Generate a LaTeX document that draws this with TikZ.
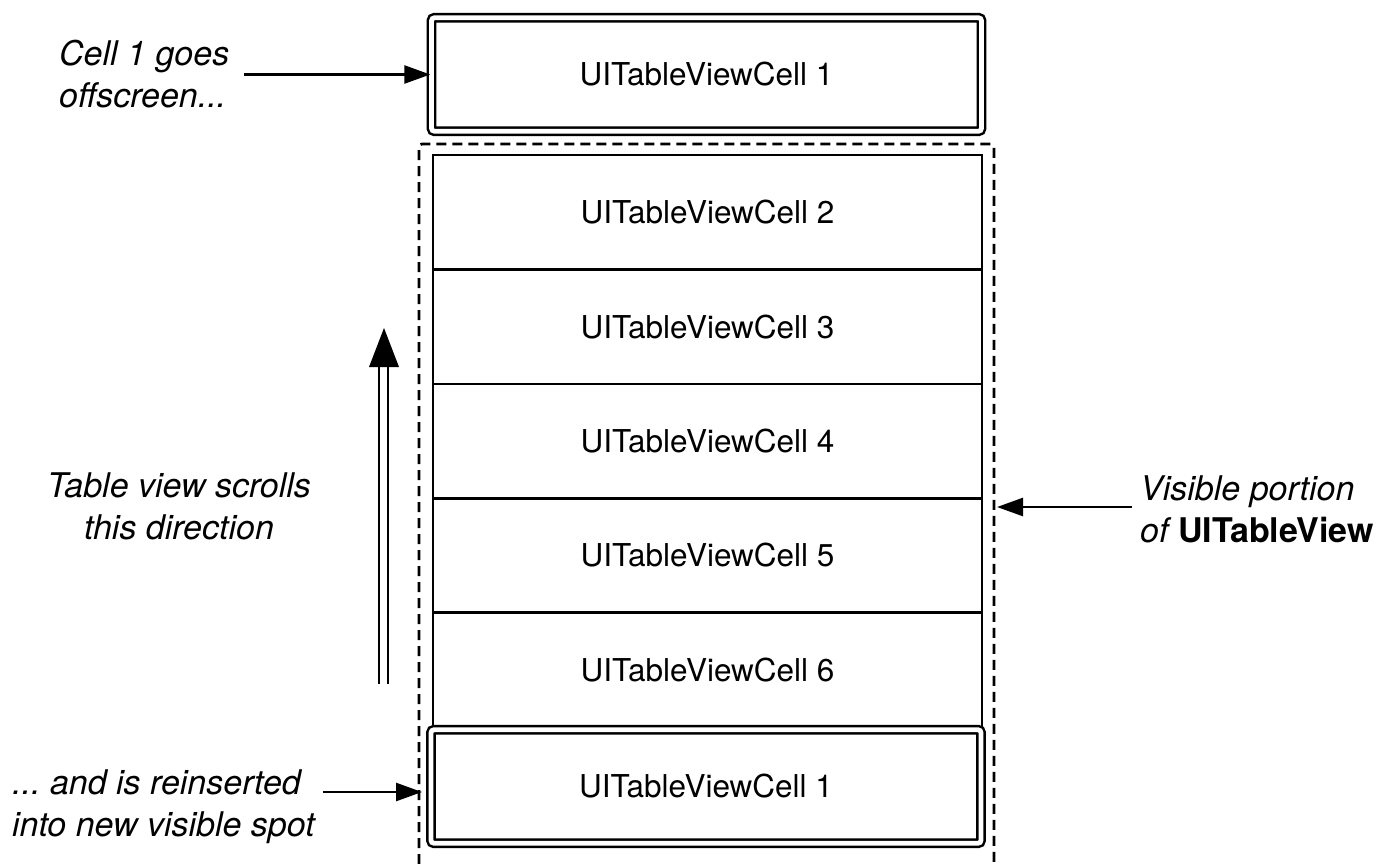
\documentclass[tikz,border=0pt]{standalone}
\usepackage{fontspec}
\setmainfont{TeX Gyre Heros}
\usetikzlibrary{positioning,arrows.meta}
\frenchspacing

\newcommand{\cellfont}{\fontsize{31.5}{38}\selectfont}
\newcommand{\notefont}{\fontsize{34}{42}\selectfont}

\tikzset{
    cellbox/.style={draw,line width=2.6pt,minimum width=549pt,minimum height=114.4pt,
        inner sep=0pt,outer sep=0pt,font=\cellfont},
    movedcell/.style={draw,line width=2.5pt,double,double distance=4.8pt,rounded corners=3pt,
        minimum width=550pt,minimum height=113.5pt,inner sep=0pt,font=\cellfont},
    note/.style={inner sep=0pt,font=\notefont\itshape},
    arr/.style={-{Triangle[length=26pt,width=18pt]},line width=2.6pt}
}

\begin{document}
\begin{tikzpicture}[x=1pt,y=-1pt]
                \useasboundingbox (0,0) rectangle (1398,863);

                \coordinate (VisibleTip) at (997,507);
                \coordinate (ReinsertTip) at (422,792);

                % cells
                \node[movedcell] (OffCell) at (706.5,74.5) {UITableViewCell 1};
                \node[cellbox] (Cell2) at (707.5,212.2) {UITableViewCell 2};
                \node[cellbox,below=0pt of Cell2] (Cell3) {UITableViewCell 3};
                \node[cellbox,below=0pt of Cell3] (Cell4) {UITableViewCell 4};
                \node[cellbox,below=0pt of Cell4] (Cell5) {UITableViewCell 5};
                \node[cellbox,below=0pt of Cell5] (Cell6) {UITableViewCell 6};
                \node[movedcell,fill=white] (NewCell) at (706,786.5) {UITableViewCell 1};

                % visible part of the table view
                \draw[line width=2.8pt,dash pattern=on 10pt off 6pt,rounded corners=3pt]
                    (419,880) -- (419,144) -- (994,144) -- (994,880);

                % notes
                \node[note,anchor=west,align=left] (Goes) at (59,74.5) {Cell 1 goes\\offscreen...};
                \node[note,align=center] (Scrolls) at (179,506.5) {Table view scrolls\\this direction};
                \node[note,anchor=west,align=left] (Reinsert) at (12,807) {... and is reinserted\\into new visible spot};
                \node[note,anchor=west,align=left] (Visible) at (1140,509.5) {Visible portion\\of \textbf{\upshape UITableView}};

                \draw[arr] ([xshift=15pt]Goes.east |- OffCell.west) -- (OffCell.west);
                \draw[arr] ([xshift=8pt]Reinsert.east |- ReinsertTip) -- (ReinsertTip);
                \draw[arr] ([xshift=-8pt]Visible.west |- VisibleTip) -- (VisibleTip);

                % scroll direction
                \draw[line width=2.4pt,double,double distance=6.5pt] (383.5,684) -- (383.5,366);
                \fill (369,367) -- (384,328) -- (399,367) -- cycle;
\end{tikzpicture}
\end{document}
